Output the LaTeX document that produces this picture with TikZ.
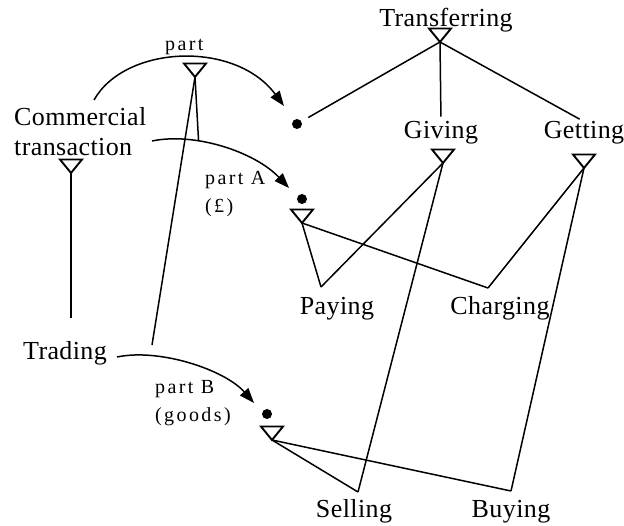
\documentclass[tikz,border=0pt]{standalone}
\usepackage{fontspec}
\setmainfont{Liberation Serif}
\newfontfamily\conceptfont[LetterSpace=1.5]{Liberation Serif}
\newfontfamily\rolefont[LetterSpace=12]{Liberation Serif}
\usetikzlibrary{arrows.meta}

\tikzset{
  concept/.style={inner sep=0pt, anchor=base, font=\conceptfont\fontsize{26}{30}\selectfont},
  role/.style={inner sep=0pt, anchor=north west, align=left, font=\rolefont\fontsize{20}{28}\selectfont},
  link/.style={line width=1.5pt},
  rolearrow/.style={line width=1.5pt, -{Triangle[length=15pt,width=11pt]}},
  dot/.style={circle, fill, inner sep=0pt, minimum size=10pt},
  isa/.pic={\draw[line width=1.9pt] (0,0) -- (-11,-13.5) -- (11,-13.5) -- cycle;}
}

\begin{document}
\begin{tikzpicture}[x=1pt,y=-1pt]
  \useasboundingbox (0,0) rectangle (624,526);

  % concepts
  \node[concept] (transferring) at (446,27) {Transferring};
  \node[concept] (giving) at (441,139) {Giving};
  \node[concept] (getting) at (584,139) {Getting};
  \node[concept, anchor=north west, align=left] (commercial) at (14,107) {Commercial\\transaction};
  \node[concept] (trading) at (65,360) {Trading};
  \node[concept] (paying) at (337,315) {Paying};
  \node[concept] (charging) at (500,315) {Charging};
  \node[concept] (selling) at (354,517) {Selling};
  \node[concept] (buying) at (511,517) {Buying};

  % roles
  \node[role, anchor=base west] (part) at (165,51) {part};
  \node[role] (partA) at (205,171) {part A\\(£)};
  \node[role] (partB) at (155,380) {part B\\(goods)};

  % isa triangles
  \coordinate (tTr) at (440,42);
  \coordinate (tGiv) at (443,163);
  \coordinate (tGet) at (584,168);
  \coordinate (tCom) at (71,173);
  \coordinate (tPart) at (195,77);
  \coordinate (tA) at (302,223);
  \coordinate (tB) at (272,440);
  \foreach \t in {tTr,tGiv,tGet,tCom,tPart,tA,tB}
    \pic at (\t) {isa};

  % role fillers
  \node[dot] (dT) at (297,124) {};
  \node[dot] (dA) at (302,199) {};
  \node[dot] (dB) at (267,414) {};

  % free ends
  \coordinate (comTop) at (94,100);
  \coordinate (comRight) at (152,141);
  \coordinate (tradeRight) at (117,357);
  \coordinate (tipT) at (284,106);
  \coordinate (tipA) at (289,188);
  \coordinate (tipB) at (254,403);
  \coordinate (comFoot) at (71,318);
  \coordinate (tradeTop) at (152,345);
  \coordinate (pPay) at (321,287);
  \coordinate (pChg) at (488,288);
  \coordinate (pSel) at (358,492);
  \coordinate (pBuy) at (511,491);

  % role arrows
  \draw[rolearrow] (comTop) .. controls (125,45) and (235,40) .. (tipT);
  \draw[rolearrow] (comRight) .. controls (195,132) and (255,152) .. coordinate[pos=0.33] (ctFoot) (tipA);
  \draw[rolearrow] (tradeRight) .. controls (160,348) and (225,370) .. (tipB);

  % links
  \draw[link, shorten >=13pt] (tTr) -- (dT.center);
  \draw[link, shorten >=5pt] (tTr) -- (giving.north);
  \draw[link, shorten >=5pt] (tTr) -- (getting.north);
  \draw[link] (tCom) -- (comFoot);
  \draw[link] (tPart) -- (tradeTop);
  \draw[link] (tPart) -- (ctFoot);
  \draw[link] (tA) -- (pPay);
  \draw[link] (tGiv) -- (pPay);
  \draw[link] (tA) -- (pChg);
  \draw[link] (tGet) -- (pChg);
  \draw[link] (tGiv) -- (pSel);
  \draw[link] (tB) -- (pSel);
  \draw[link] (tGet) -- (pBuy);
  \draw[link] (tB) -- (pBuy);
\end{tikzpicture}
\end{document}
